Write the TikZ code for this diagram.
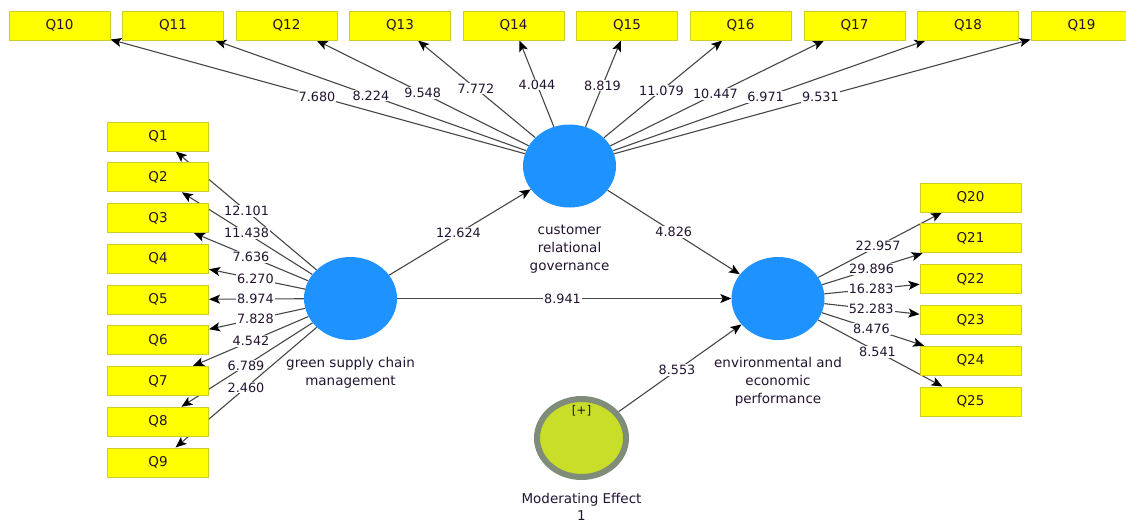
\documentclass[tikz,border=0pt]{standalone}
\usepackage{fontspec}
\setmainfont{DejaVu Sans}
\usetikzlibrary{positioning,arrows.meta,backgrounds,shapes.geometric}
\definecolor{itemyellow}{RGB}{255,255,0}
\definecolor{itemedge}{RGB}{205,205,40}
\definecolor{lvblue}{RGB}{30,146,255}
\definecolor{modgreen}{RGB}{200,222,40}
\definecolor{modring}{RGB}{128,140,122}
\definecolor{inkdark}{RGB}{35,20,50}
\definecolor{linkgray}{RGB}{70,70,70}
\tikzset{
  indicator/.style={draw=itemedge, fill=itemyellow, line width=1pt, minimum width=101pt,
    minimum height=29pt, inner sep=0pt, text=inkdark, font=\fontsize{13.5}{15}\selectfont},
  construct/.style={ellipse, fill=lvblue, minimum width=93pt, minimum height=83pt, inner sep=0pt},
  moderator/.style={ellipse, draw=modring, line width=6pt, fill=modgreen,
    minimum width=89pt, minimum height=78pt, inner sep=0pt},
  caption/.style={align=center, inner sep=2pt, text=inkdark, font=\fontsize{13.5}{18}\selectfont},
  weight/.style={fill=white, inner sep=1pt, text=inkdark, font=\fontsize{12.8}{14}\selectfont},
  link/.style={draw=linkgray, line width=1.1pt,
    -{Stealth[length=11pt,width=9pt,inset=2.5pt,color=black]}}
}
\begin{document}
\begin{tikzpicture}[x=1pt,y=-1pt]
\useasboundingbox (0,0) rectangle (1126,523);
% latent variables
\node[construct] (crg) at (569.5,166) {};
\node[construct] (gscm) at (350.5,298.5) {};
\node[construct] (eep) at (778,298.5) {};
\node[moderator] (mod) at (581.5,438) {};
\node[caption, below=15pt of crg] (crgname) {customer\\relational\\governance};
\node[caption, below=14.5pt of gscm] (gscmname) {green supply chain\\management};
\node[caption, below=14.5pt of eep] (eepname) {environmental and\\economic\\performance};
\node[caption, below=11.5pt of mod, font=\fontsize{13.5}{17}\selectfont] (modname) {Moderating Effect\\1};
\node[caption, inner sep=1pt, font=\fontsize{12}{13}\selectfont, below=8pt of mod.north] (modsign) {[+]};
% indicators, top row
\node[indicator] (q10) at (59.5,25.5) {Q10};
\node[indicator] (q11) at (173,25.5) {Q11};
\node[indicator] (q12) at (286.5,25.5) {Q12};
\node[indicator] (q13) at (400,25.5) {Q13};
\node[indicator] (q14) at (513.5,25.5) {Q14};
\node[indicator] (q15) at (627,25.5) {Q15};
\node[indicator] (q16) at (740.5,25.5) {Q16};
\node[indicator] (q17) at (854.5,25.5) {Q17};
\node[indicator] (q18) at (968,25.5) {Q18};
\node[indicator] (q19) at (1081.5,25.5) {Q19};
% indicators, left column
\node[indicator] (q1) at (158,136.5) {Q1};
\node[indicator] (q2) at (158,177.25) {Q2};
\node[indicator] (q3) at (158,218) {Q3};
\node[indicator] (q4) at (158,258.75) {Q4};
\node[indicator] (q5) at (158,299.5) {Q5};
\node[indicator] (q6) at (158,340.25) {Q6};
\node[indicator] (q7) at (158,381) {Q7};
\node[indicator] (q8) at (158,421.75) {Q8};
\node[indicator] (q9) at (158,462.5) {Q9};
% indicators, right column
\node[indicator] (q20) at (970.5,197.5) {Q20};
\node[indicator] (q21) at (970.5,238.3) {Q21};
\node[indicator] (q22) at (970.5,279.1) {Q22};
\node[indicator] (q23) at (970.5,319.9) {Q23};
\node[indicator] (q24) at (970.5,360.7) {Q24};
\node[indicator] (q25) at (970.5,401.5) {Q25};
\begin{pgfonlayer}{background}
\draw[link] (crg) -- (q10);
\draw[link] (crg) -- (q11);
\draw[link] (crg) -- (q12);
\draw[link] (crg) -- (q13);
\draw[link] (crg) -- (q14);
\draw[link] (crg) -- (q15);
\draw[link] (crg) -- (q16);
\draw[link] (crg) -- (q17);
\draw[link] (crg) -- (q18);
\draw[link] (crg) -- (q19);
\draw[link] (gscm) -- (q1);
\draw[link] (gscm) -- (q2);
\draw[link] (gscm) -- (q3);
\draw[link] (gscm) -- (q4);
\draw[link] (gscm) -- (q5);
\draw[link] (gscm) -- (q6);
\draw[link] (gscm) -- (q7);
\draw[link] (gscm) -- (q8);
\draw[link] (gscm) -- (q9);
\draw[link] (eep) -- (q20);
\draw[link] (eep) -- (q21);
\draw[link] (eep) -- (q22);
\draw[link] (eep) -- (q23);
\draw[link] (eep) -- (q24);
\draw[link] (eep) -- (q25);
\draw[link] (gscm) -- (crg);
\draw[link] (gscm) -- (eep);
\draw[link] (crg) -- (eep);
\draw[link] (mod) -- (eep);
\end{pgfonlayer}
% path coefficients
\path (crg.center) -- (q10.center) node[weight, pos=.495] {7.680};
\path (crg.center) -- (q11.center) node[weight, pos=.501] {8.224};
\path (crg.center) -- (q12.center) node[weight, pos=.519] {9.548};
\path (crg.center) -- (q13.center) node[weight, pos=.552] {7.772};
\path (crg.center) -- (q14.center) node[weight, pos=.58] {4.044};
\path (crg.center) -- (q15.center) node[weight, pos=.574] {8.819};
\path (crg.center) -- (q16.center) node[weight, pos=.538] {11.079};
\path (crg.center) -- (q17.center) node[weight, pos=.512] {10.447};
\path (crg.center) -- (q18.center) node[weight, pos=.492] {6.971};
\path (crg.center) -- (q19.center) node[weight, pos=.49] {9.531};
\path (gscm.center) -- (q1.center) node[weight, pos=.54] {12.101};
\path (gscm.center) -- (q2.center) node[weight, pos=.54] {11.438};
\path (gscm.center) -- (q3.center) node[weight, pos=.517] {7.636};
\path (gscm.center) -- (q4.center) node[weight, pos=.494] {6.270};
\path (gscm.center) -- (q5.center) node[weight, pos=.494] {8.974};
\path (gscm.center) -- (q6.center) node[weight, pos=.494] {7.828};
\path (gscm.center) -- (q7.center) node[weight, pos=.517] {4.542};
\path (gscm.center) -- (q8.center) node[weight, pos=.543] {6.789};
\path (gscm.center) -- (q9.center) node[weight, pos=.543] {2.460};
\path (eep.center) -- (q20.center) node[weight, pos=.52] {22.957};
\path (eep.center) -- (q21.center) node[weight, pos=.486] {29.896};
\path (eep.center) -- (q22.center) node[weight, pos=.484] {16.283};
\path (eep.center) -- (q23.center) node[weight, pos=.484] {52.283};
\path (eep.center) -- (q24.center) node[weight, pos=.486] {8.476};
\path (eep.center) -- (q25.center) node[weight, pos=.517] {8.541};
\path (gscm.center) -- (crg.center) node[weight, pos=.493] {12.624};
\path (gscm.center) -- (eep.center) node[weight, pos=.496] {8.941};
\path (crg.center) -- (eep.center) node[weight, midway] {4.826};
\path (mod.center) -- (eep.center) node[weight, pos=.486] {8.553};
\end{tikzpicture}
\end{document}
